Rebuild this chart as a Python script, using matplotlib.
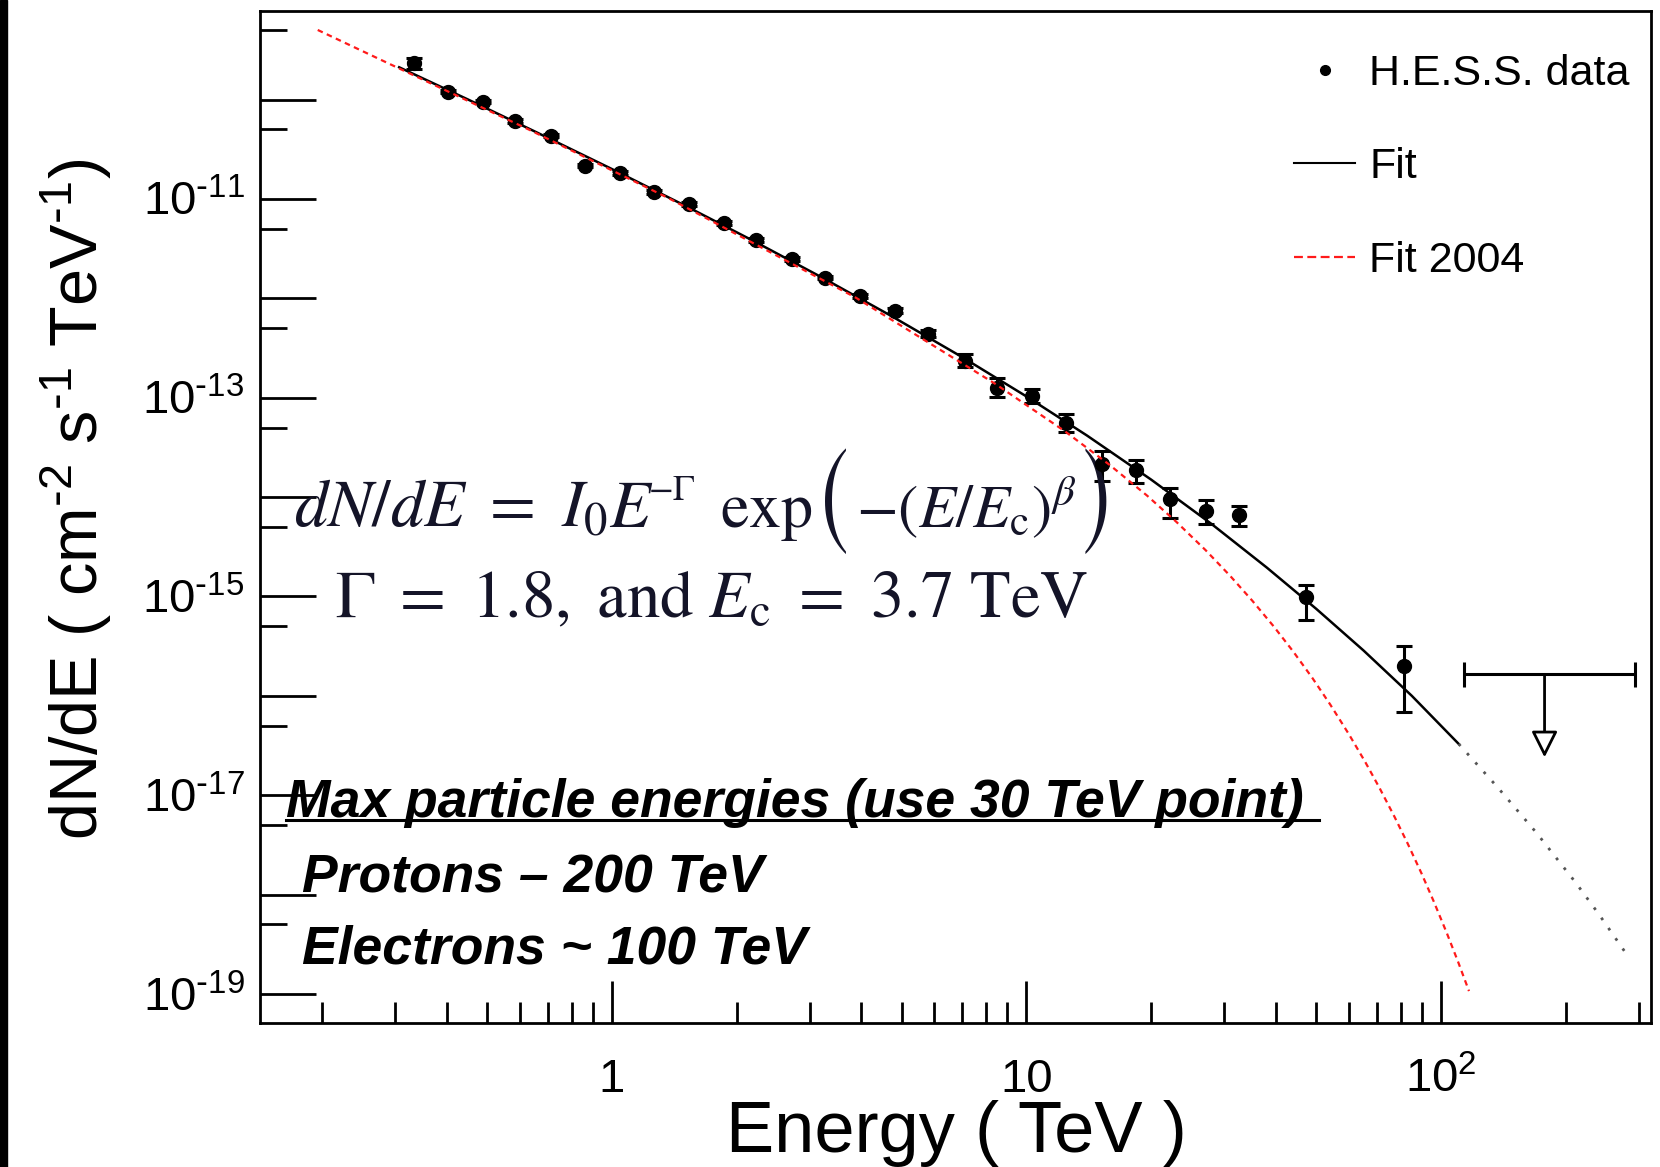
import matplotlib
matplotlib.use("Agg")
import numpy as np
import matplotlib.pyplot as plt
from matplotlib.lines import Line2D
from matplotlib.patches import Rectangle
from matplotlib.ticker import FixedLocator, FixedFormatter, FuncFormatter, NullFormatter
from matplotlib.transforms import ScaledTranslation

plt.rcParams['font.family'] = ['Liberation Sans', 'DejaVu Sans']

# H.E.S.S. data points (TeV, cm^-2 s^-1 TeV^-1)
energy = [0.333, 0.4025, 0.4887, 0.5857, 0.7146, 0.863, 1.048, 1.263, 1.537,
          1.861, 2.230, 2.716, 3.270, 3.971, 4.819, 5.805, 7.107, 8.511,
          10.34, 12.48, 15.24, 18.33, 22.17, 27.05, 32.51, 47.13, 81.43]
flux = [2.318e-10, 1.201e-10, 9.53e-11, 6.09e-11, 4.33e-11, 2.16e-11, 1.814e-11,
        1.168e-11, 8.84e-12, 5.69e-12, 3.87e-12, 2.474e-12, 1.615e-12, 1.057e-12,
        7.52e-13, 4.38e-13, 2.346e-13, 1.264e-13, 1.043e-13, 5.54e-14, 2.148e-14,
        1.878e-14, 9.53e-15, 7.26e-15, 6.52e-15, 9.79e-16, 2.017e-16]
flux_lo = [2.05e-10, 1.15e-10, 9.15e-11, 5.85e-11, 4.16e-11, 2.07e-11, 1.74e-11,
           1.12e-11, 8.48e-12, 5.46e-12, 3.71e-12, 2.37e-12, 1.55e-12, 1.01e-12,
           7.1e-13, 4.05e-13, 2.02e-13, 1.01e-13, 0.884e-13, 4.5e-14, 1.466e-14,
           1.37e-14, 6.09e-15, 5.30e-15, 5.08e-15, 5.81e-16, 6.9e-17]
flux_hi = [2.62e-10, 1.25e-10, 9.93e-11, 6.34e-11, 4.51e-11, 2.25e-11, 1.89e-11,
           1.22e-11, 9.2e-12, 5.93e-12, 4.03e-12, 2.58e-12, 1.68e-12, 1.10e-12,
           7.95e-13, 4.75e-13, 2.72e-13, 1.58e-13, 1.23e-13, 6.8e-14, 2.89e-14,
           2.366e-14, 1.221e-14, 9.37e-15, 8.08e-15, 1.296e-15, 3.18e-16]

# upper limit
ul_energy = 177.7
ul_energy_lo = 113.4
ul_energy_hi = 293.5
ul_flux = 1.642e-16
ul_flux_arrow = 2.4e-17

# curves
fit_energy = [0.307, 0.45, 0.65, 1.0, 1.5, 2.2, 3.2, 4.7, 7.0, 10.0, 14.0, 20.0,
              28.0, 38.0, 50.0, 65.0, 85.0, 110.3]
fit_flux = [2.11e-10, 1.0e-10, 4.80e-11, 2.0e-11, 8.57e-12, 3.76e-12, 1.634e-12,
            6.71e-13, 2.557e-13, 1.029e-13, 4.156e-14, 1.495e-14, 5.33e-15,
            1.95e-15, 7.5e-16, 2.86e-16, 1.0e-16, 3.28e-17]
fit_ext_energy = [110.3, 136.9, 169.9, 210.9, 240.0, 279.3]
fit_ext_flux = [3.28e-17, 1.2e-17, 4.18e-18, 1.33e-18, 6.38e-19, 2.56e-19]
fit04_energy = [0.1953, 0.305, 0.633, 1.375, 3.868, 8.404, 12.38, 15.84, 19.56,
                23.0, 27.05, 31.0, 35.05, 39.5, 44.0, 49.0, 54.03, 60.0, 65.63,
                71.0, 77.2, 83.0, 89.8, 96.0, 103.3, 110.0, 116.8]
fit04_flux = [5.01e-10, 2.08e-10, 4.95e-11, 1.01e-11, 1.02e-12, 1.38e-13, 4.59e-14,
              2.12e-14, 1.03e-14, 5.62e-15, 2.92e-15, 1.61e-15, 9.06e-16, 4.98e-16,
              2.79e-16, 1.50e-16, 8.18e-17, 4.08e-17, 2.16e-17, 1.19e-17, 6.08e-18,
              3.29e-18, 1.62e-18, 8.55e-19, 4.08e-19, 2.09e-19, 1.068e-19]

x_ticks = [1, 10, 100]
x_tick_labels = ['1', '10', r'$\mathregular{10^{2}}$']
y_label_exps = [-19, -17, -15, -13, -11]
legend_labels = ['H.E.S.S. data', 'Fit', 'Fit 2004']

fig = plt.figure(figsize=(16.6, 11.67), dpi=100)
ax = fig.add_axes([0.1566, 0.1237, 0.838, 0.8669])
ax.set_xscale('log')
ax.set_yscale('log')
ax.set_xlim(0.1417, 321)
ax.set_ylim(10 ** -19.289, 10 ** -9.109)

yerr = [[f - lo for f, lo in zip(flux, flux_lo)],
        [hi - f for f, hi in zip(flux, flux_hi)]]
ax.errorbar(energy, flux, yerr=yerr, fmt='o', color='black', ms=10,
            elinewidth=2.2, capsize=6, capthick=2.2, zorder=3)
ax.plot(fit_energy, fit_flux, color='black', lw=1.8, zorder=4)
ax.plot(fit_ext_energy, fit_ext_flux, color='#555555', lw=2, ls=(0, (1, 3.5)), zorder=4)
ax.plot(fit04_energy, fit04_flux, color='#ff1a1a', lw=1.6, ls=(0, (2.5, 2)), zorder=5)

ax.errorbar([ul_energy], [ul_flux],
            xerr=[[ul_energy - ul_energy_lo], [ul_energy_hi - ul_energy]],
            fmt='none', ecolor='black', elinewidth=2.2, capsize=9, capthick=2.2)
ax.annotate('', xy=(ul_energy, ul_flux_arrow), xytext=(ul_energy, ul_flux),
            arrowprops=dict(arrowstyle='-|>,head_length=0.8,head_width=0.4',
                            fc='white', ec='black', lw=2, shrinkA=0, shrinkB=0,
                            mutation_scale=20))

# axes, ticks
for s in ax.spines.values():
    s.set_linewidth(2)


def ylab(v, pos):
    e = int(round(np.log10(v)))
    if e in y_label_exps:
        return r'$\mathregular{10^{\text{-}%d}}$' % abs(e)
    return ''


ax.xaxis.set_major_locator(FixedLocator(x_ticks))
ax.xaxis.set_major_formatter(FixedFormatter(x_tick_labels))
ax.xaxis.set_minor_locator(FixedLocator(
    [m * 10.0 ** d for d in (-1, 0, 1, 2) for m in range(2, 10) if m * 10.0 ** d < 321]))
ax.xaxis.set_minor_formatter(NullFormatter())
ax.yaxis.set_major_locator(FixedLocator([10.0 ** e for e in range(-19, -9)]))
ax.yaxis.set_major_formatter(FuncFormatter(ylab))
ax.yaxis.set_minor_locator(FixedLocator([5 * 10.0 ** e for e in range(-20, -9)]))
ax.yaxis.set_minor_formatter(NullFormatter())

ax.tick_params(axis='x', which='major', direction='in', length=30, width=2,
               labelsize=34, pad=50, top=False)
ax.tick_params(axis='x', which='minor', direction='in', length=15, width=2, top=False)
ax.tick_params(axis='y', which='major', direction='in', length=40, width=2,
               labelsize=34, pad=11, right=False)
ax.tick_params(axis='y', which='minor', direction='in', length=19.5, width=2, right=False)

for t in ax.xaxis.get_major_ticks():
    t.label1.set_va('baseline')
shift = ScaledTranslation(0, -0.17, fig.dpi_scale_trans)
for t in ax.yaxis.get_major_ticks():
    t.label1.set_va('baseline')
    t.label1.set_transform(t.label1.get_transform() + shift)

ax.set_xlabel('Energy ( TeV )', fontsize=52, va='baseline')
ax.xaxis.set_label_coords(0.5004, -0.1278)
ax.set_ylabel(r'dN/dE ( cm$\mathregular{^{\text{-}2}}$ s$\mathregular{^{\text{-}1}}$ '
              r'TeV$\mathregular{^{\text{-}1}}$)', fontsize=48, va='center')
ax.yaxis.set_label_coords(-0.132, 0.517)

# legend
handles = [Line2D([], [], marker='o', ls='none', color='black', ms=7),
           Line2D([], [], color='black', lw=1.5),
           Line2D([], [], color='#ff1a1a', lw=1.6, ls=(0, (4, 2)))]
ax.legend(handles, legend_labels, loc='upper left', bbox_to_anchor=(0.7433, 0.9575),
          frameon=False, fontsize=31, handlelength=1.42, handletextpad=0.33,
          labelspacing=1.24, borderpad=0, borderaxespad=0)

# formula, first line built from pieces so the brackets can be tall
formula_color = '#141428'
renderer = fig.canvas.get_renderer()
f_y = 0.49
math48 = dict(fontsize=48, math_fontfamily='stix', va='baseline')
math46 = dict(fontsize=46, math_fontfamily='stix', va='baseline')
math44 = dict(fontsize=44, math_fontfamily='stix', va='baseline')
math26 = dict(fontsize=26, math_fontfamily='stix', va='baseline')
paren_kw = dict(fontsize=62, family='STIXSizeOneSym', va='center')
pieces = [(r'$dN/dE\ =\ I_0$', math48, 0.0244, 0, 0),
          (r'$E$', math48, 0.2507, 0, 0),
          (r'$-\Gamma$', math26, 0.2789, 0, 27),
          (r'$\exp$', math46, 0.3307, 0, 0),
          ('(', paren_kw, None, 1, 26),
          (r'$-(E/E_\mathrm{c})^{\beta}$', math44, None, 2, 0),
          (')', paren_kw, None, 1, 26)]
inv = ax.transAxes.inverted()
cur_x = 0.0244
for s, kw, x_ax, gap, dy in pieces:
    if x_ax is not None:
        cur_x = x_ax
    t = ax.annotate(s, xy=(cur_x, f_y), xycoords='axes fraction', xytext=(gap, dy),
                    textcoords='offset pixels', ha='left', color=formula_color, **kw)
    bb = t.get_window_extent(renderer)
    cur_x = inv.transform((bb.x1, 0))[0]

ax.text(0.0539, 0.401,
        r'$\Gamma\ =\ 1.8,\ \mathrm{and}\ E_\mathrm{c}\ =\ 3.7\ \mathrm{TeV}$',
        transform=ax.transAxes, fontsize=48, math_fontfamily='stix',
        color=formula_color, ha='left', va='baseline')

# notes
max_y = 0.2033
max_txt = ax.text(0.0187, max_y, 'Max particle energies (use 30 TeV point)',
                  transform=ax.transAxes, fontsize=38.5, fontweight='bold',
                  fontstyle='italic', ha='left', va='baseline')
ax.text(0.0302, 0.1282, 'Protons \u2013 200 TeV', transform=ax.transAxes,
        fontsize=38.5, fontweight='bold', fontstyle='italic', ha='left', va='baseline')
ax.text(0.0302, 0.058, 'Electrons ~ 100 TeV', transform=ax.transAxes,
        fontsize=38.5, fontweight='bold', fontstyle='italic', ha='left', va='baseline')

bb = max_txt.get_window_extent(renderer)
x0 = inv.transform((bb.x0, 0))[0]
x1 = inv.transform((bb.x1 + 15, 0))[0]
ax.plot([x0, x1], [max_y - 3 / 1011.7] * 2, transform=ax.transAxes, color='black',
        lw=2.2, clip_on=False)

# black strip on the left edge
fig.add_artist(Rectangle((0, 0), 7 / 1660, 1, transform=fig.transFigure,
                         color='black', zorder=10))

fig.savefig('out.png', dpi=100)
